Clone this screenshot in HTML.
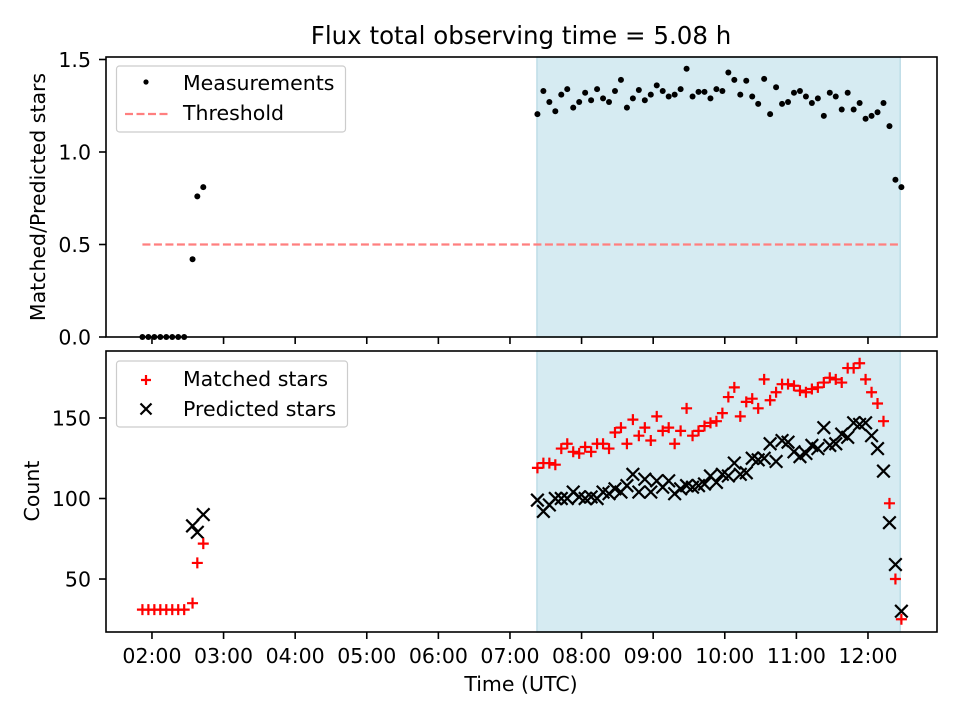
<!DOCTYPE html>
<html><head><meta charset="utf-8"><style>
body{margin:0;background:#fff}
svg{display:block;font-family:"DejaVu Sans","Liberation Sans",sans-serif}
</style></head><body>
<svg id="chart" width="960" height="720" viewBox="0 0 960 720" xmlns="http://www.w3.org/2000/svg">
<text x="521" y="44" font-size="24.5" text-anchor="middle">Flux total observing time = 5.08 h</text>
</svg>
<script>
// ---- data ----
const timesMin = [112,117,122,127,132,137,142,147,154,158,163,
443,448,453,458,463,468,473,478,483,488,493,498,503,508,513,518,523,528,533,538,543,548,553,558,563,568,573,578,583,588,593,598,603,608,613,618,623,628,633,638,643,648,653,658,663,668,673,678,683,688,693,698,703,708,713,718,723,728,733,738,743,748];
const ratio = [0,0,0,0,0,0,0,0,0.42,0.76,0.81,
1.205,1.33,1.27,1.22,1.31,1.34,1.24,1.27,1.32,1.28,1.34,1.29,1.27,1.33,1.39,1.24,1.29,1.335,1.28,1.31,1.36,1.33,1.30,1.31,1.34,1.45,1.30,1.325,1.325,1.29,1.34,1.33,1.43,
1.39,1.31,1.385,1.30,1.26,1.395,1.205,1.35,1.26,1.27,1.32,1.33,1.30,1.265,1.29,1.195,1.32,1.30,1.23,1.32,1.23,1.265,1.18,1.195,1.215,1.265,1.14,0.85,0.81];
const matched = [31,31,31,31,31,31,31,31,35,60,72,
119,122,122,121,131,134,129,128,132,129,134,134,131,141,144,134,149,139,144,136,151,142,144,134,142,156,139,142,145,147,148,153,163,
169,151,160,162,156,174,161,166,171,171,170,167,166,168,169,172,175,174,172,181,181,184,174,166,159,148,97,50,25];
const predicted = [null,null,null,null,null,null,null,null,83,79,90,
99,92,96,100,100,100,104,101,100,101,100,104,103,106,104,108,115,104,112,104,111,107,111,103,106,108,107,108,109,114,110,115,114,
122,115,116,125,124,125,134,123,136,135,129,126,128,133,131,144,133,134,140,138,147,146,147,139,131,117,85,59,30];
const thresholdValue = 0.5;
const shadeStartH = 7.377, shadeEndH = 12.45;
const xTickHours = [2,3,4,5,6,7,8,9,10,11,12];
const topTicks = [0.0,0.5,1.0,1.5];
const botTicks = [50,100,150];

// ---- axes ----
const NS="http://www.w3.org/2000/svg";
const svg=document.getElementById('chart');
const L=106,R=937;
const xMin=1.358,xMax=12.964;
const X=h=>L+(h-xMin)/(xMax-xMin)*(R-L);
const T={top:57,bot:337,min:0,max:1.5135};
const B={top:351,bot:632,min:17.1,max:191.6};
const Yt=v=>T.bot-(v-T.min)/(T.max-T.min)*(T.bot-T.top);
const Yb=v=>B.bot-(v-B.min)/(B.max-B.min)*(B.bot-B.top);
function el(tag,attrs,parent){const e=document.createElementNS(NS,tag);for(const k in attrs)e.setAttribute(k,attrs[k]);(parent||svg).appendChild(e);return e;}
function fmt(h){return String(h).padStart(2,'0')+':00';}
const FS=20.5;

function panel(P,Y,name){
  const g=el('g',{});
  
  
  const s=el('rect',{x:X(shadeStartH),y:P.top,width:X(shadeEndH)-X(shadeStartH),height:P.bot-P.top,fill:'#d6ebf2',stroke:'#bedde7','stroke-width':1.5},g);
  
  
  return g;
}
function frame(P,g,ticks,Y,labels){
  const f=el('rect',{x:L,y:P.top,width:R-L,height:P.bot-P.top,fill:'none',stroke:'#000','stroke-width':1.6},g);
  
  
  xTickHours.forEach(h=>{
    const t=el('line',{x1:X(h),x2:X(h),y1:P.bot,y2:P.bot+7,stroke:'#000','stroke-width':1.6},g);
    
    
    if(labels){
      const tl=el('text',{x:X(h),y:P.bot+31,'font-size':FS,'text-anchor':'middle'},g);
      tl.textContent=fmt(h);
      
      
    }
  });
  ticks.forEach(v=>{
    el('line',{x1:L-7,x2:L,y1:Y(v),y2:Y(v),stroke:'#000','stroke-width':1.6},g);
    const tl=el('text',{x:L-15,y:Y(v)+7.5,'font-size':FS,'text-anchor':'end'},g);
    tl.textContent=labels?String(v):v.toFixed(1);
    
    
  });
}

// top panel
const gt=panel(T,Yt,'ratio-panel');
const th=el('line',{x1:X(timesMin[0]/60),x2:X(timesMin[timesMin.length-1]/60),y1:Yt(thresholdValue),y2:Yt(thresholdValue),stroke:'#ff7f7f','stroke-width':2.2,'stroke-dasharray':'8,3.5'},gt);


timesMin.forEach((m,i)=>{
  const c=el('circle',{cx:X(m/60),cy:Yt(ratio[i]),r:3,fill:'#000'},gt);
  
  
});
frame(T,gt,topTicks,Yt,false);

// bottom panel
const gb=panel(B,Yb,'count-panel');
function plus(x,y,s,g){return el('path',{d:`M${x-s} ${y}H${x+s}M${x} ${y-s}V${y+s}`,stroke:'#ff0000','stroke-width':2.2,fill:'none'},g);}
function cross(x,y,s,g){return el('path',{d:`M${x-s} ${y-s}L${x+s} ${y+s}M${x-s} ${y+s}L${x+s} ${y-s}`,stroke:'#000','stroke-width':2.2,fill:'none'},g);}
timesMin.forEach((m,i)=>{
  if(predicted[i]!==null){
    const p=cross(X(m/60),Yb(predicted[i]),6.3,gb);
    
    
  }
});
timesMin.forEach((m,i)=>{
  const p=plus(X(m/60),Yb(matched[i]),5.5,gb);
  
  
});
frame(B,gb,botTicks,Yb,true);

// legends
function legend(y,w,name){
  const g=el('g',{});
  
  
  el('rect',{x:116.5,y:y,width:w,height:66,rx:3,fill:'#fff','fill-opacity':0.8,stroke:'#ccc','stroke-width':1.2},g);
  return g;
}
const lt=legend(66,229,'ratio-legend');
el('circle',{cx:146,cy:82,r:2.6,fill:'#000'},lt);
let t=el('text',{x:183,y:90,'font-size':FS},lt);t.textContent='Measurements';

el('line',{x1:125,x2:170,y1:114,y2:114,stroke:'#ff7f7f','stroke-width':2.2,'stroke-dasharray':'8,3.5'},lt);
t=el('text',{x:183,y:120,'font-size':FS},lt);t.textContent='Threshold';


const lb=legend(361,231,'count-legend');
plus(146,380,5,lb);
t=el('text',{x:183,y:386,'font-size':FS},lb);t.textContent='Matched stars';

cross(146,409,5.5,lb);
t=el('text',{x:183,y:416,'font-size':FS},lb);t.textContent='Predicted stars';


// axis titles
t=el('text',{x:0,y:0,'font-size':FS,'text-anchor':'middle',transform:'translate(45,197) rotate(-90)'});t.textContent='Matched/Predicted stars';

t=el('text',{x:0,y:0,'font-size':FS,'text-anchor':'middle',transform:'translate(39,491) rotate(-90)'});t.textContent='Count';

t=el('text',{x:521,y:691,'font-size':FS,'text-anchor':'middle'});t.textContent='Time (UTC)';

</script>
</body></html>
